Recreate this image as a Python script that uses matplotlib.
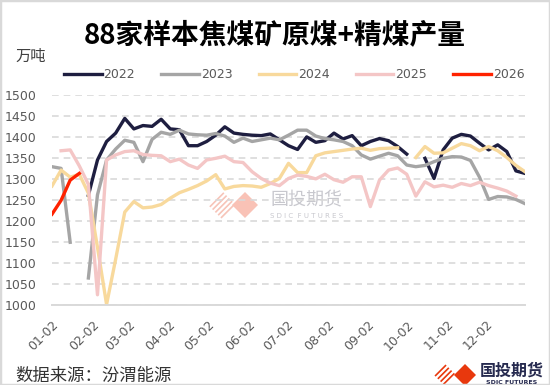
import numpy as np
import pandas as pd
import matplotlib
matplotlib.use('Agg')
import matplotlib.pyplot as plt
import matplotlib.dates as mdates
from matplotlib.patches import Polygon, Rectangle

nan = np.nan
CJK = ['Noto Sans CJK SC', 'DejaVu Sans']

# weekly points, all years mapped onto one calendar year
weeks = pd.date_range('2025-01-02', periods=53, freq='7D')
month_ticks = pd.date_range('2025-01-01', periods=12, freq='MS') + pd.Timedelta(days=1)

y2022 = [nan, nan, nan, nan,
         1262, 1346, 1390, 1410, 1445, 1420, 1428, 1426, 1443, 1420, 1418, 1380, 1380, 1390,
         1405, 1425, 1410, 1407, 1405, 1404, 1408, 1394, 1380, 1371, 1401, 1388, 1392, 1410,
         1396, 1404, 1380, 1390, 1397, 1392, 1378, 1360, nan, 1350, 1302, 1370, 1398, 1407,
         1403, 1386, 1370, 1382, 1366, 1320, 1314]
y2023 = [1330, 1326, 1150, nan, 1065, 1263, 1346, 1372, 1393, 1388, 1342, 1395, 1412, 1407,
         1417, 1408, 1406, 1405, 1409, 1403, 1388, 1398, 1390, 1394, 1398, 1394, 1405, 1417,
         1417, 1403, 1397, 1394, 1390, 1380, 1358, 1348, 1355, 1362, 1356, 1334, 1330, 1333,
         1342, 1350, 1354, 1353, 1345, 1305, 1252, 1259, 1258, 1252, 1242]
y2024 = [1284, 1322, 1305, 1312, 1267, 1138, 1002, 1110, 1222, 1247, 1232, 1234, 1240, 1255,
         1268, 1276, 1285, 1296, 1311, 1277, 1283, 1285, 1284, 1281, 1290, 1302, 1338, 1316,
         1316, 1356, 1363, 1366, 1369, 1372, 1374, 1369, 1373, 1374, 1375, nan, 1352, 1378,
         1362, 1363, 1374, 1385, 1380, 1368, 1378, 1368, 1352, 1333, 1318]
y2025 = [nan, 1368, 1370, 1332, 1288, 1025, 1346, 1358, 1366, 1368, 1359, 1357, 1356, 1342,
         1348, 1334, 1326, 1346, 1350, 1355, 1342, 1340, 1318, 1302, 1291, 1285, 1302, 1310,
         1307, 1301, 1312, 1299, 1293, 1306, 1306, 1235, 1298, 1322, 1327, 1312, 1260, 1294,
         1282, 1286, 1281, 1290, 1285, 1293, 1285, 1279, 1272, 1260, nan]
y2026 = [1217, 1250, 1298, 1314]

series = [('2022', y2022, '#1E1E40'), ('2023', y2023, '#A5A5A5'), ('2024', y2024, '#F8D99C'),
          ('2025', y2025, '#F4C6C6'), ('2026', y2026, '#FF2200')]

W, H = 550, 385
fig = plt.figure(figsize=(W/100, H/100), dpi=100)
ax = fig.add_axes([52/W, 1-305.3/H, 473/W, 210/H])

def fp(x, y):  # pixel -> figure fraction
    return (x/W, 1-y/H)

for name, vals, c in series:
    ax.plot(weeks[:len(vals)], vals, color=c, lw=2.4, label=name, solid_joinstyle='round')

ax.set_ylim(1000, 1500)
ax.set_yticks(np.arange(1000, 1501, 50))
ax.set_xlim(pd.Timestamp('2025-01-02'), pd.Timestamp('2026-01-01'))
ax.set_xticks(month_ticks)
ax.xaxis.set_major_formatter(mdates.DateFormatter('%m-%d'))
ax.grid(axis='y', color='#D9D9D9', lw=1.2, ls=(0, (4, 3)))
ax.set_axisbelow(True)
for s in ['top', 'right', 'left']:
    ax.spines[s].set_visible(False)
ax.spines['bottom'].set_color('#D9D9D9'); ax.spines['bottom'].set_linewidth(1.4)
ax.tick_params(axis='both', length=0, labelsize=9, labelcolor='#595959')
ax.tick_params(axis='y', pad=11)
ax.tick_params(axis='x', pad=9)
for lb in ax.get_xticklabels():
    lb.set_rotation(45); lb.set_ha('right'); lb.set_va('top'); lb.set_rotation_mode('anchor')

fig.text(0.5, 1-35/H, '88家样本焦煤矿原煤+精煤产量', fontsize=20, fontweight='bold',
         family=CJK, ha='center', va='center', color='black')
fig.text(15/W, 1-56/H, '万吨', fontsize=11, family=CJK, ha='left', va='center', color='#404040')
fig.legend(*ax.get_legend_handles_labels(), ncol=5, loc='center', bbox_to_anchor=(0.535, 1-75/H),
           frameon=False, fontsize=9, handlelength=3.0, handletextpad=0.15, columnspacing=2.1,
           labelcolor='#595959')
fig.text(15/W, 1-376/H, '数据来源：汾渭能源', fontsize=12.5, family=CJK, ha='left', va='center', color='#333333')

def diamond(cx, cy, r, **kw):
    pts = [fp(cx-r, cy), fp(cx, cy-r), fp(cx+r, cy), fp(cx, cy+r)]
    return Polygon(pts, closed=True, transform=fig.transFigure, **kw)

# watermark
plt.rcParams['hatch.linewidth'] = 1.2
ax.add_patch(diamond(222, 205, 14, facecolor='none', edgecolor='#F7C4B8', hatch='//////', lw=0, zorder=0.5, clip_on=False))
ax.add_patch(diamond(245, 205, 13, facecolor='#F9C2B6', edgecolor='none', zorder=0.5, clip_on=False))
ax.text(*fp(307, 200), '国投期货', transform=fig.transFigure, fontsize=13, family=CJK,
        color='#C8C8CE', ha='center', va='center', zorder=0.5)
ax.text(*fp(307, 215.5), 'S D I C  F U T U R E S', transform=fig.transFigure, fontsize=5,
        color='#C8C8CE', ha='center', va='center', zorder=0.5)

# bottom-right logo
fig.patches.append(diamond(445, 375, 11, facecolor='none', edgecolor='#E8380D', hatch='//////', lw=0))
fig.patches.append(diamond(465, 375, 11, facecolor='#E8380D', edgecolor='none'))
fig.text(*fp(512, 371), '国投期货', fontsize=11.5, fontweight='bold', family=CJK, color='#262A4F',
         ha='center', va='center')
fig.text(*fp(512, 383), 'SDIC FUTURES', fontsize=4.5, fontweight='bold', color='#262A4F',
         ha='center', va='center')

fig.patches.append(Rectangle((0, 0), 1, 1, transform=fig.transFigure, fill=False,
                             edgecolor='#D9D9D9', lw=2.5))
fig.savefig('out.png', dpi=100)
